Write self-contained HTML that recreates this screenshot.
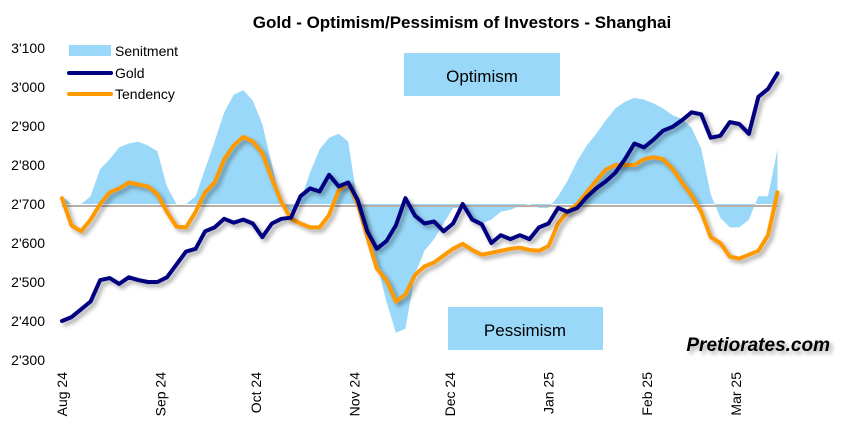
<!DOCTYPE html>
<html><head><meta charset="utf-8"><style>
body{margin:0;background:#fff;width:853px;height:426px;overflow:hidden;font-family:"Liberation Sans",Arial,sans-serif}
svg text{font-family:"Liberation Sans",Arial,sans-serif}
</style></head><body>
<svg id="chart" width="853" height="426" viewBox="0 0 853 426" xmlns="http://www.w3.org/2000/svg">
<defs>
<filter id="sh" x="-5%" y="-5%" width="110%" height="110%"><feDropShadow dx="3" dy="3" stdDeviation="2" flood-color="#000" flood-opacity="0.35"/></filter>
</defs>
<text x="462" y="28" text-anchor="middle" font-size="17" font-weight="bold" fill="#000">Gold - Optimism/Pessimism of Investors - Shanghai</text>
<g id="yaxis"></g>
<g id="xaxis"></g>
<rect x="404" y="53" width="156" height="43" fill="#99d8f8"/>
<text x="482" y="82" text-anchor="middle" font-size="17" fill="#000">Optimism</text>
<rect x="448" y="307" width="155" height="43" fill="#99d8f8"/>
<text x="525" y="336" text-anchor="middle" font-size="17" fill="#000">Pessimism</text>
<g id="plot"></g>
<g>
<rect x="69" y="45" width="42" height="11" fill="#99d8f8"/>
<text x="115" y="56" font-size="14">Senitment</text>
<line x1="69" y1="73" x2="111" y2="73" stroke="#000080" stroke-width="4" stroke-linecap="round"/>
<text x="115" y="78" font-size="14">Gold</text>
<line x1="69" y1="94" x2="111" y2="94" stroke="#ff9900" stroke-width="4" stroke-linecap="round"/>
<text x="115" y="99" font-size="14">Tendency</text>
</g>
<text x="830" y="351" text-anchor="end" font-size="19" font-weight="bold" font-style="italic" fill="#000" filter="url(#sh)">Pretiorates.com</text>
</svg>
<script>
const days=[0,3,6,9,12,15,18,21,24,27,30,33,36,39,42,45,48,51,54,57,60,63,66,69,72,75,78,81,84,87,90,93,96,99,102,105,108,111,114,117,120,123,126,129,132,135,138,141,144,147,150,153,156,159,162,165,168,171,174,177,180,183,186,189,192,195,198,201,204,207,210,213,216,219,222,225];
const gold=[2400,2410,2430,2450,2505,2510,2495,2512,2505,2500,2500,2512,2545,2578,2585,2630,2640,2662,2652,2660,2650,2615,2650,2662,2665,2720,2740,2732,2775,2745,2755,2710,2630,2585,2605,2645,2715,2670,2650,2655,2630,2650,2700,2660,2648,2600,2620,2610,2620,2610,2640,2650,2690,2680,2690,2718,2740,2758,2780,2815,2855,2845,2865,2888,2898,2915,2935,2930,2870,2875,2910,2905,2880,2975,2995,3035];
const tendency=[2715,2645,2630,2660,2700,2730,2740,2755,2750,2745,2725,2680,2642,2640,2680,2730,2755,2815,2850,2872,2860,2830,2765,2705,2662,2650,2640,2640,2672,2735,2755,2700,2615,2535,2505,2450,2468,2518,2540,2550,2568,2585,2598,2582,2570,2575,2580,2585,2588,2582,2580,2592,2650,2680,2700,2730,2760,2788,2800,2800,2800,2815,2820,2815,2790,2755,2722,2680,2615,2600,2565,2560,2570,2580,2620,2730];
const sentiment=[2720,2700,2700,2720,2790,2815,2845,2855,2860,2850,2835,2745,2700,2700,2720,2790,2860,2935,2980,2992,2965,2905,2800,2702,2680,2710,2780,2840,2870,2880,2860,2700,2620,2550,2450,2370,2380,2520,2580,2610,2650,2690,2690,2665,2650,2660,2680,2685,2695,2700,2690,2690,2720,2760,2810,2850,2880,2915,2945,2962,2972,2968,2958,2945,2928,2918,2895,2842,2725,2665,2640,2640,2660,2720,2720,2840];
const yTicks=[2300,2400,2500,2600,2700,2800,2900,3000,3100];
const yTickLabels=["2'300","2'400","2'500","2'600","2'700","2'800","2'900","3'000","3'100"];
const monthDays=[0,31,61,92,122,153,184,212];
const monthLabels=["Aug 24","Sep 24","Oct 24","Nov 24","Dec 24","Jan 25","Feb 25","Mar 25"];
const baseline=2700;
const X=d=>62+d*3.18;
const Y=v=>360-(v-2300)*0.39;
const NS="http://www.w3.org/2000/svg";
function mk(t,a,p){const e=document.createElementNS(NS,t);for(const k in a)e.setAttribute(k,a[k]);p.appendChild(e);return e;}
const ya=document.getElementById('yaxis'),xa=document.getElementById('xaxis'),pl=document.getElementById('plot');
yTicks.forEach((v,i)=>{const t=mk('text',{x:45,y:Y(v)+5,'text-anchor':'end','font-size':14,fill:'#000'},ya);t.textContent=yTickLabels[i];

});
monthDays.forEach((d,i)=>{const x=X(d)+5;const t=mk('text',{x:0,y:0,transform:`translate(${x},372) rotate(-90)`,'text-anchor':'end','font-size':14,fill:'#000'},xa);t.textContent=monthLabels[i];

});
// sentiment area
let d='M'+X(days[0])+','+Y(baseline);
days.forEach((dd,i)=>{d+=' L'+X(dd).toFixed(1)+','+Y(sentiment[i]).toFixed(1);});
d+=' L'+X(days[days.length-1])+','+Y(baseline)+' Z';
const area=mk('path',{d:d,fill:'#99d8f8'},pl);


const bl=mk('line',{x1:X(days[0]),x2:X(days[days.length-1]),y1:Y(baseline)+2,y2:Y(baseline)+2,stroke:'#b8b0a8','stroke-width':2},pl);


function line(arr,color,name){const p=days.map((dd,i)=>X(dd).toFixed(1)+','+Y(arr[i]).toFixed(1)).join(' L');
const e=mk('path',{d:'M'+p,fill:'none',stroke:color,'stroke-width':4,'stroke-linejoin':'round','stroke-linecap':'round',filter:'url(#sh)'},pl);

}
line(tendency,'#ff9900','tendency-line');
line(gold,'#000080','gold-line');
</script>
</body></html>
